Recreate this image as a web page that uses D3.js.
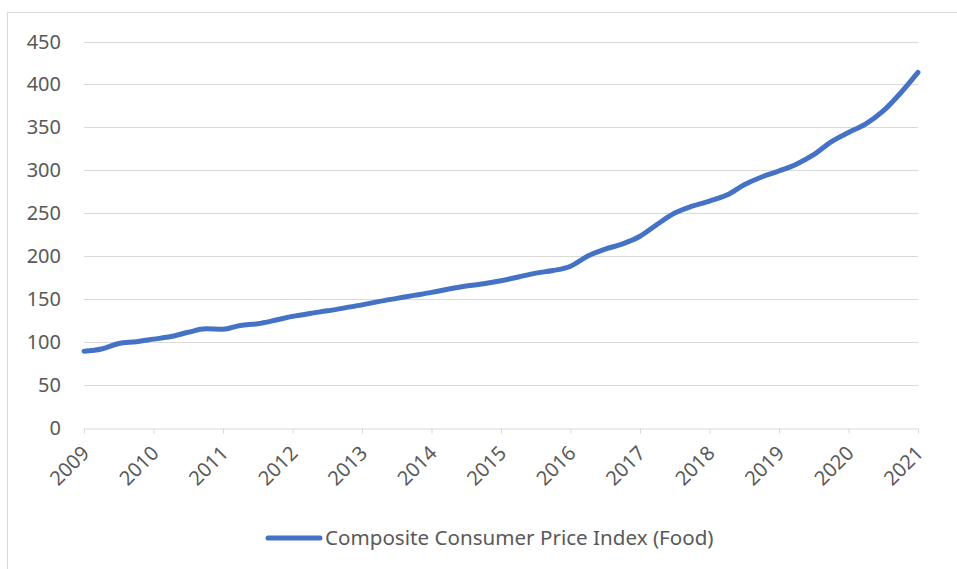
<!DOCTYPE html>
<meta charset="utf-8">
<style>
body { margin: 0; background: #fff; }
text { font-family: "Noto Sans", sans-serif; fill: #595959; }
.grid line { stroke: #d9d9d9; stroke-width: 1px; }
.line { fill: none; stroke: #4472c4; stroke-width: 5px; stroke-linecap: round; stroke-linejoin: round; }
</style>
<body>
<svg id="chart" width="957" height="569"></svg>
<script src="https://d3js.org/d3.v7.min.js"></script>
<script>

// quarterly readings, fractional year
var years = [2009.00, 2009.25, 2009.50, 2009.75, 2010.00, 2010.25, 2010.50, 2010.75,
             2011.00, 2011.25, 2011.50, 2011.75, 2012.00, 2012.25, 2012.50, 2012.75,
             2013.00, 2013.25, 2013.50, 2013.75, 2014.00, 2014.25, 2014.50, 2014.75,
             2015.00, 2015.25, 2015.50, 2015.75, 2016.00, 2016.25, 2016.50, 2016.75,
             2017.00, 2017.25, 2017.50, 2017.75, 2018.00, 2018.25, 2018.50, 2018.75,
             2019.00, 2019.25, 2019.50, 2019.75, 2020.00, 2020.25, 2020.50, 2020.75,
             2021.00];
var cpiFood = [89, 91.5, 98, 100, 103, 106, 111, 115,
               114.5, 119, 121, 125, 129.5, 133, 136, 139.5,
               143, 147, 150.5, 154, 157.5, 161.5, 165, 167.5,
               171, 175.5, 180, 183, 188, 200, 208, 214,
               223, 237, 250, 258, 264, 271, 283, 292,
               299, 307, 318, 333, 344, 354, 369, 390,
               414];
var xTicks = [2009, 2010, 2011, 2012, 2013, 2014, 2015, 2016, 2017, 2018, 2019, 2020, 2021];
var yTicks = [0, 50, 100, 150, 200, 250, 300, 350, 400, 450];
var seriesName = "Composite Consumer Price Index (Food)";

var svg = d3.select("#chart");

// outer chart border
svg.append("rect")
    .attr("x", 7.5).attr("y", 12.5)
    .attr("width", 960).attr("height", 600)
    .attr("fill", "none").attr("stroke", "#d9d9d9");

var x = d3.scaleLinear().domain([2009, 2021]).range([84, 918]);
var y = d3.scaleLinear().domain([0, 450]).range([427.5, 41.5]);

// gridlines
svg.append("g").attr("class", "grid")
  .selectAll("line")
  .data(yTicks.slice(1))
  .enter().append("line")
    .attr("x1", x(2009)).attr("x2", x(2021))
    .attr("y1", function(d) { return Math.round(y(d)) + 0.5; })
    .attr("y2", function(d) { return Math.round(y(d)) + 0.5; });

// y labels
svg.append("g")
  .selectAll("text")
  .data(yTicks)
  .enter().append("text")
    .attr("x", 61)
    .attr("y", function(d) { return y(d); })
    .attr("dy", "0.35em")
    .attr("text-anchor", "end")
    .style("font-size", "20px")
    .text(function(d) { return d; });

// x axis
var xAxis = svg.append("g")
    .attr("transform", "translate(0," + (Math.round(y(0)) + 0.5) + ")")
    .call(d3.axisBottom(x).tickValues(xTicks).tickSize(5).tickSizeOuter(0).tickFormat(d3.format("d")));

xAxis.select(".domain").attr("stroke", "#d9d9d9");
xAxis.selectAll(".tick line").attr("stroke", "#d9d9d9");
xAxis.selectAll(".tick text")
    .attr("fill", "#595959")
    .style("font-family", "Noto Sans, sans-serif")
    .style("font-size", "20px")
    .attr("text-anchor", "end")
    .attr("y", 0)
    .attr("dy", 0)
    .attr("transform", "translate(6,26) rotate(-45)");

// the series
var line = d3.line()
    .x(function(d, i) { return x(years[i]); })
    .y(function(d) { return y(d); })
    .curve(d3.curveMonotoneX);

svg.append("path")
    .datum(cpiFood)
    .attr("class", "line")
    .attr("d", line);

// legend
var legend = svg.append("g");
legend.append("line")
    .attr("x1", 268).attr("x2", 320)
    .attr("y1", 538).attr("y2", 538)
    .attr("stroke", "#4472c4").attr("stroke-width", 5).attr("stroke-linecap", "round");
legend.append("text")
    .attr("x", 325).attr("y", 538)
    .attr("dy", "0.35em")
    .style("font-size", "20.6px")
    .text(seriesName);

</script>
</body>
